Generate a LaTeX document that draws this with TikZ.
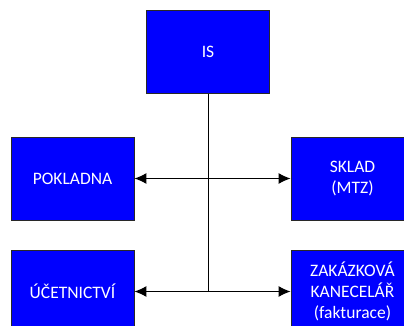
\documentclass[tikz,border=0pt]{standalone}
\usepackage{fontspec}
\setmainfont{Carlito}
\usetikzlibrary{arrows.meta}
\definecolor{boxblue}{RGB}{0,0,255}
\definecolor{boxedge}{RGB}{40,40,40}
\tikzset{
  unit/.style={draw=boxedge, line width=0.9pt, fill=boxblue, text=white,
    minimum width=123pt, minimum height=83pt, inner sep=0pt, align=center,
    font=\fontsize{17.5pt}{21pt}\selectfont},
  link/.style={line width=1pt, black},
  twoway/.style={link, {Latex[length=12pt,width=11pt]}-{Latex[length=12pt,width=11pt]}}
}
\begin{document}
\begin{tikzpicture}[x=1pt,y=-1pt]
  \useasboundingbox (0,0) rectangle (404,326);
  \clip (0,0) rectangle (404,326);
  % units of the information system
  \node[unit] (is)    at (208,52)    {IS};
  \node[unit] (pokl)  at (72.5,178.5)  {POKLADNA};
  \node[unit] (sklad) at (352.5,178.5) {SKLAD\\(MTZ)};
  \node[unit] (ucto)  at (72.5,291.5)  {ÚČETNICTVÍ};
  \node[unit] (zak)   at (352.5,291.5) {ZAKÁZKOVÁ\\KANECELÁŘ\\(fakturace)};
  % backbone from IS down to the lower branch
  \coordinate (bottom) at (is.south |- ucto.east);
  \draw[link] (is.south) -- (bottom);
  % two-way links between the side units
  \draw[twoway] (pokl.east) -- (sklad.west);
  \draw[twoway] (ucto.east) -- (zak.west);
\end{tikzpicture}
\end{document}
